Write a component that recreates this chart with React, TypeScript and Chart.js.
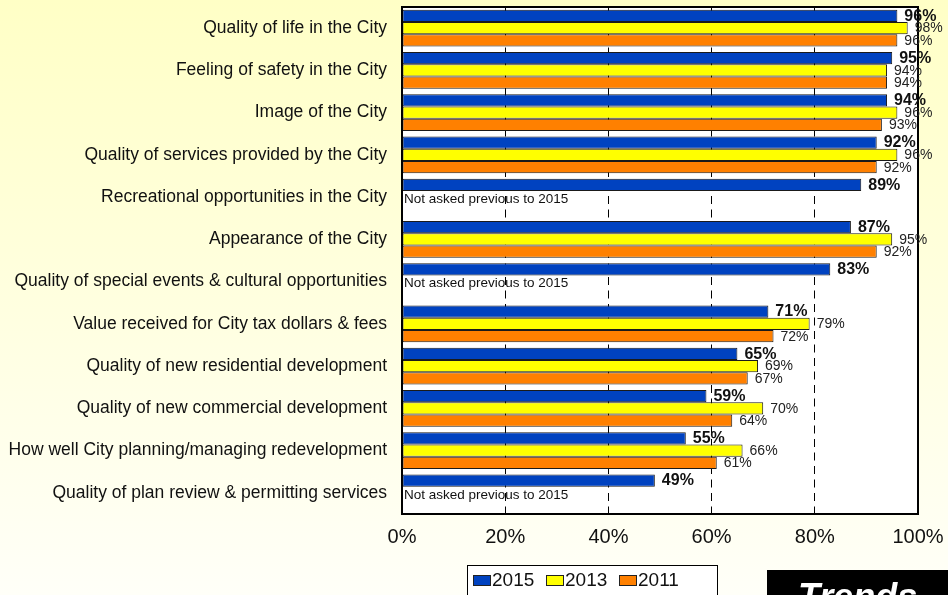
import React, { useEffect, useRef } from "react";
import { Chart, registerables } from "chart.js";

Chart.register(...registerables);

const categories: string[] = [
  "Quality of life in the City",
  "Feeling of safety in the City",
  "Image of the City",
  "Quality of services provided by the City",
  "Recreational opportunities in the City",
  "Appearance of the City",
  "Quality of special events & cultural opportunities",
  "Value received for City tax dollars & fees",
  "Quality of new residential development",
  "Quality of new commercial development",
  "How well City planning/managing redevelopment",
  "Quality of plan review & permitting services",
];

const values2015: (number | null)[] = [96, 95, 94, 92, 89, 87, 83, 71, 65, 59, 55, 49];
const values2013: (number | null)[] = [98, 94, 96, 96, null, 95, null, 79, 69, 70, 66, null];
const values2011: (number | null)[] = [96, 94, 93, 92, null, 92, null, 72, 67, 64, 61, null];

const seriesLabels: string[] = ["2015", "2013", "2011"];
const seriesColors: string[] = ["#0042C0", "#FFFF00", "#FF8000"];
const xTicks: number[] = [0, 20, 40, 60, 80, 100];
const notAskedText = "Not asked previous to 2015";
const badgeText = "Trends";

const FONT = '"Liberation Sans", Arial, Helvetica, sans-serif';

const noPad = (scale: any) => {
  scale.paddingTop = 0;
  scale.paddingBottom = 0;
  scale.paddingLeft = 0;
  scale.paddingRight = 0;
};

const decorPlugin = {
  id: "decor",
  beforeDraw(chart: any) {
    const { ctx, width, height, chartArea } = chart;
    ctx.save();
    const g = ctx.createLinearGradient(0, 0, 0, height);
    g.addColorStop(0, "#FFFFC6");
    g.addColorStop(1, "#FFFFF8");
    ctx.fillStyle = g;
    ctx.fillRect(0, 0, width, height);
    ctx.fillStyle = "#FFFFFF";
    ctx.fillRect(chartArea.left, chartArea.top, chartArea.right - chartArea.left, chartArea.bottom - chartArea.top);
    ctx.restore();
  },
  afterDatasetsDraw(chart: any) {
    const { ctx, chartArea } = chart;
    ctx.save();
    // plot frame
    ctx.strokeStyle = "#000";
    ctx.lineWidth = 2;
    ctx.strokeRect(chartArea.left, chartArea.top, chartArea.right - chartArea.left, chartArea.bottom - chartArea.top);

    // data labels
    ctx.textBaseline = "middle";
    ctx.textAlign = "left";
    chart.data.datasets.forEach((ds: any, di: number) => {
      const meta = chart.getDatasetMeta(di);
      ctx.font = di === 0 ? `bold 16px ${FONT}` : `14px ${FONT}`;
      ctx.fillStyle = di === 0 ? "#111" : "#222";
      meta.data.forEach((el: any, i: number) => {
        const v = ds.data[i];
        if (v === null || v === undefined) return;
        ctx.fillText(`${v}%`, el.x + 7, el.y + 0.5);
      });
    });

    // "not asked" notes
    const yScale = chart.scales.y;
    ctx.font = `13.5px ${FONT}`;
    ctx.fillStyle = "#111";
    chart.data.datasets[1].data.forEach((v: any, i: number) => {
      if (v === null) {
        ctx.fillText(notAskedText, chartArea.left + 2, yScale.getPixelForValue(i) + 2);
      }
    });

    // legend
    const lx = 467, ly = 565, lw = 250, lh = 40;
    ctx.fillStyle = "#FFFFFF";
    ctx.fillRect(lx, ly, lw, lh);
    ctx.strokeStyle = "#000";
    ctx.lineWidth = 1;
    ctx.strokeRect(lx + 0.5, ly + 0.5, lw, lh);
    ctx.font = `19px ${FONT}`;
    ctx.textBaseline = "middle";
    let x = lx + 6;
    chart.data.datasets.forEach((ds: any) => {
      ctx.fillStyle = ds.backgroundColor;
      ctx.fillRect(x + 0.5, 575.5, 17, 10);
      ctx.strokeStyle = "#222";
      ctx.strokeRect(x + 0.5, 575.5, 17, 10);
      ctx.fillStyle = "#111";
      ctx.fillText(ds.label, x + 19, 581);
      x += 73;
    });

    // Trends badge
    ctx.fillStyle = "#000";
    ctx.fillRect(767, 570, 200, 40);
    ctx.fillStyle = "#FFF";
    ctx.font = `italic bold 36px ${FONT}`;
    ctx.textBaseline = "alphabetic";
    ctx.fillText(badgeText, 798, 609);
    ctx.restore();
  },
};

export default function App() {
  const ref = useRef<HTMLCanvasElement | null>(null);
  useEffect(() => {
    document.body.style.margin = "0";
    const canvas = ref.current!;
    const chart = new Chart(canvas, {
      type: "bar",
      data: {
        labels: categories,
        datasets: [
          { label: seriesLabels[0], data: values2015, backgroundColor: seriesColors[0] },
          { label: seriesLabels[1], data: values2013, backgroundColor: seriesColors[1] },
          { label: seriesLabels[2], data: values2011, backgroundColor: seriesColors[2] },
        ].map((d) => ({
          ...d,
          borderColor: "#1a1a1a",
          borderWidth: 1,
          borderSkipped: false,
          categoryPercentage: 0.875,
          barPercentage: 1.0,
        })),
      },
      options: {
        indexAxis: "y",
        animation: false,
        responsive: false,
        devicePixelRatio: 1,
        layout: { padding: { left: 0, right: 30, top: 7, bottom: 0 } },
        plugins: { legend: { display: false }, tooltip: { enabled: false } },
        scales: {
          x: {
            min: 0,
            max: 100,
            afterBuildTicks: (scale: any) => {
              scale.ticks = xTicks.map((v) => ({ value: v }));
            },
            afterFit: (scale: any) => {
              scale.height = 81;
              noPad(scale);
            },
            border: { display: false, dash: [8, 5.5] },
            grid: {
              drawTicks: false,
              color: (c: any) => (c.tick && (c.tick.value === 0 || c.tick.value === 100) ? "rgba(0,0,0,0)" : "#000"),
              lineWidth: 1,
            },
            ticks: {
              padding: 11,
              color: "#111",
              font: { family: FONT, size: 20 },
              maxRotation: 0,
              callback: (v: any) => `${v}%`,
            },
          },
          y: {
            afterFit: (scale: any) => {
              scale.width = 402;
              noPad(scale);
            },
            border: { display: false },
            grid: { display: false, drawTicks: false },
            ticks: {
              padding: 15,
              color: "#111",
              font: { family: FONT, size: 17.5 },
              autoSkip: false,
            },
          },
        },
      },
      plugins: [decorPlugin],
    } as any);
    return () => chart.destroy();
  }, []);
  return (
    <div style={{ width: 948, height: 595, overflow: "hidden" }}>
      <canvas ref={ref} width={948} height={595} style={{ display: "block" }} />
    </div>
  );
}
